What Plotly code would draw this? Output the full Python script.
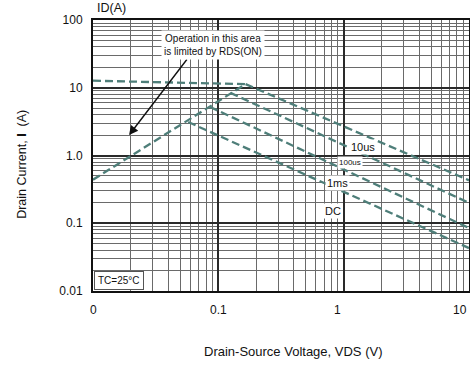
import math
import plotly.graph_objects as go

# ---- data ----
limit_x = [0.01, 0.165]          # package current limit (horizontal)
limit_y = [12.7, 11.3]
rds_x = [0.01, 0.165]            # RDS(ON) limit line
rds_y = [0.44, 11.3]
us10_x = [0.165, 10]
us10_y = [11.3, 0.43]
us100_x = [0.125, 10]
us100_y = [8.4, 0.20]
ms1_x = [0.086, 10]
ms1_y = [5.2, 0.085]
dc_x = [0.0575, 10]
dc_y = [3.12, 0.043]

x_major = [0.01, 0.1, 1, 10]
x_major_text = ["0", "0.1", "1", "10"]
y_major = [0.01, 0.1, 1, 10, 100]
y_major_text = ["0.01", "0.1", "1.0", "10", "100"]

x_minor = [m * d for d in [0.01, 0.1, 1] for m in range(2, 10)]
y_minor = [m * d for d in [0.01, 0.1, 1, 10] for m in range(2, 10)]

curve_labels = ["10us", "100us", "1ms", "DC"]
curve_label_x = [1.43, 1.12, 0.885, 0.82]
curve_label_y = [1.33, 0.776, 0.393, 0.152]
curve_label_size = [11, 8, 11, 11]

LINE = "#4e7e79"
FONT = "Arial, Liberation Sans, sans-serif"

fig = go.Figure()
for xs, ys in [(limit_x, limit_y), (rds_x, rds_y), (us10_x, us10_y),
               (us100_x, us100_y), (ms1_x, ms1_y), (dc_x, dc_y)]:
    fig.add_trace(go.Scatter(x=xs, y=ys, mode="lines",
                             line=dict(color=LINE, width=2.3, dash="8px,4px"),
                             hoverinfo="skip", showlegend=False))

for t, lx, ly, fs in zip(curve_labels, curve_label_x, curve_label_y, curve_label_size):
    fig.add_annotation(x=math.log10(lx), y=math.log10(ly), text=t, showarrow=False,
                       xanchor="center", yanchor="middle",
                       font=dict(size=fs, color="#111", family=FONT),
                       bgcolor="white", borderpad=1)

# x tick labels (placed at the axis tick values; last one right-aligned to stay in view)
for i, (v, t) in enumerate(zip(x_major, x_major_text)):
    last = i == len(x_major) - 1
    fig.add_annotation(x=math.log10(v), xref="x", yref="paper", y=-0.07, text=t,
                       showarrow=False, xanchor="right" if last else "center", yanchor="middle",
                       xshift=0 if last else (-6 if t == "1" else 0),
                       font=dict(size=12, color="#111", family=FONT))

# RDS(ON) note and arrow
fig.add_annotation(x=math.log10(0.0194), y=math.log10(2.0), ax=-1.242, ay=1.439,
                   axref="x", ayref="y", text="", showarrow=True,
                   arrowhead=2, arrowsize=1.3, arrowwidth=1.4, arrowcolor="#111")
fig.add_annotation(x=-1.042, y=1.631, text="Operation in this area<br>is limited by RDS(ON)",
                   showarrow=False, bgcolor="white", borderpad=2,
                   xanchor="center", yanchor="middle",
                   font=dict(size=10, color="#111", family=FONT))

fig.add_annotation(xref="paper", yref="paper", x=0.003, y=0.003, xanchor="left", yanchor="bottom",
                   text="TC=25°C", showarrow=False, bgcolor="white",
                   bordercolor="#555", borderwidth=1, borderpad=3,
                   font=dict(size=10, color="#111", family=FONT))

fig.add_annotation(xref="paper", yref="paper", x=0.05, y=1.044, text="ID(A)", showarrow=False,
                   xanchor="center", yanchor="middle",
                   font=dict(size=12.5, color="#111", family=FONT))
fig.add_annotation(xref="paper", yref="paper", x=0.532, y=-0.225,
                   text="Drain-Source Voltage, VDS (V)", showarrow=False,
                   xanchor="center", yanchor="middle",
                   font=dict(size=13, color="#111", family=FONT))
fig.add_annotation(xref="paper", yref="paper", x=-0.189, y=0.469, textangle=-90,
                   text="Drain Current, <b>I</b>  (A)", showarrow=False,
                   xanchor="center", yanchor="middle",
                   font=dict(size=12.5, color="#111", family=FONT))

fig.update_xaxes(type="log", range=[-2, 1], tickvals=x_major, showticklabels=False,
                 showgrid=True, gridcolor="#2a2a2a", gridwidth=1.6,
                 minor=dict(tickvals=x_minor, showgrid=True, gridcolor="#6a6a6a", gridwidth=1),
                 showline=True, linecolor="#111", linewidth=2, mirror=True,
                 ticks="", zeroline=False, automargin=False)
fig.update_yaxes(type="log", range=[-2, 2], tickvals=y_major, ticktext=y_major_text,
                 showgrid=True, gridcolor="#2a2a2a", gridwidth=1.6,
                 minor=dict(tickvals=y_minor, showgrid=True, gridcolor="#6a6a6a", gridwidth=1),
                 showline=True, linecolor="#111", linewidth=2, mirror=True,
                 ticks="", ticklabelstandoff=6, zeroline=False, automargin=False,
                 tickfont=dict(size=12, color="#111", family=FONT))

fig.update_layout(width=470, height=365, margin=dict(l=93, r=1, t=20, b=74),
                  paper_bgcolor="white", plot_bgcolor="white",
                  font=dict(family=FONT))
fig.write_html("out.html", config={"displayModeBar": False},
               post_script="document.body.style.margin='0px';document.body.style.overflow='hidden';")
